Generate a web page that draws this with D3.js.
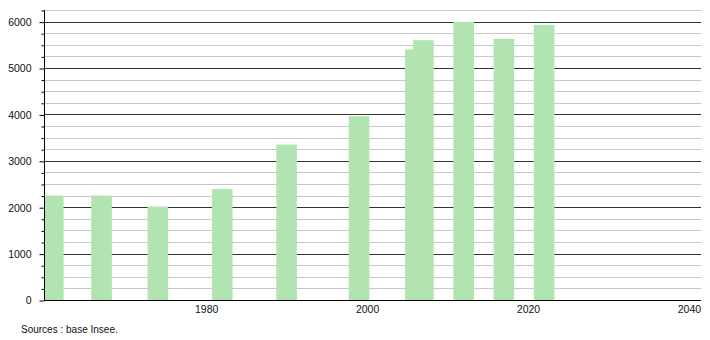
<!DOCTYPE html>
<html>
<head>
<meta charset="utf-8">
<script src="https://cdn.jsdelivr.net/npm/d3@7"></script>
<style>
	body { margin: 0; background: #fff; }
	svg text { font-family: "Liberation Sans", Arial, sans-serif; fill: #111; }
</style>
</head>
<body>
<svg id="chart" width="710" height="340"></svg>
<script>
// census years and population
var years = [1961, 1967, 1974, 1982, 1990, 1999, 2006, 2007, 2012, 2017, 2022];
var population = [2250, 2250, 2015, 2390, 3350, 3960, 5400, 5600, 5995, 5630, 5930];
var xTicks = [1980, 2000, 2020, 2040];
var yTicks = [0, 1000, 2000, 3000, 4000, 5000, 6000];
var sourceText = "Sources : base Insee.";

var svg = d3.select("svg#chart");
var plot = { left : 44, right : 701, top : 10, bottom : 300 };

var x = d3.scaleLinear().domain([1959.85, 2041.5]).range([plot.left, plot.right]);
var y = d3.scaleLinear().domain([0, 6250]).range([plot.bottom, plot.top]);
var halfBar = 1.28; // years

// minor grid every 250
var grid = svg.append("g").classed("grid", true);
var minor = d3.range(250, 6251, 250).filter(function (v) { return v % 1000 !== 0; });

grid.selectAll("line.minor")
.data(minor)
.enter().append("line")
.attr("x1", plot.left).attr("x2", plot.right)
.attr("y1", function (d) { return Math.round(y(d)) + 0.5; })
.attr("y2", function (d) { return Math.round(y(d)) + 0.5; })
.attr("stroke", "#c8c8c8");

grid.selectAll("line.major")
.data(yTicks.slice(1))
.enter().append("line")
.attr("x1", plot.left).attr("x2", plot.right)
.attr("y1", function (d) { return Math.round(y(d)) + 0.5; })
.attr("y2", function (d) { return Math.round(y(d)) + 0.5; })
.attr("stroke", "#333");

// bars, clipped at the y axis
svg.append("clipPath").attr("id", "plotClip")
.append("rect")
.attr("x", plot.left).attr("y", plot.top)
.attr("width", plot.right - plot.left).attr("height", plot.bottom - plot.top);

svg.append("g")
.attr("clip-path", "url(#plotClip)")
.selectAll("rect")
.data(years)
.enter().append("rect")
.attr("x", function (d) { return x(d - halfBar); })
.attr("width", function (d) { return x(d + halfBar) - x(d - halfBar); })
.attr("y", function (d, i) { return y(population[i]); })
.attr("height", function (d, i) { return plot.bottom - y(population[i]); })
.attr("fill", "#b1e4b1");

// y axis with minor ticks
var yAxis = svg.append("g").attr("transform", "translate(" + (plot.left + 0.5) + ",0.5)");
yAxis.call(d3.axisLeft(y).tickValues(minor).tickSize(3).tickFormat(""));
yAxis.append("g").call(d3.axisLeft(y).tickValues(yTicks).tickSize(5).tickPadding(8).tickFormat(d3.format("d")));
yAxis.selectAll(".domain").remove();
yAxis.selectAll("line").attr("stroke", "#000");
yAxis.selectAll("text").style("font-size", "10.5px").attr("fill", "#111");

svg.append("line")
.attr("x1", plot.left + 0.5).attr("x2", plot.left + 0.5)
.attr("y1", plot.top).attr("y2", plot.bottom)
.attr("stroke", "#000");

// x axis
var xAxis = svg.append("g").attr("transform", "translate(0," + (plot.bottom + 0.5) + ")");
xAxis.call(d3.axisBottom(x).tickValues(xTicks).tickSize(0).tickPadding(5).tickFormat(d3.format("d")));
xAxis.select(".domain").attr("stroke", "#000").attr("d", "M" + plot.left + ",0H" + plot.right);
xAxis.selectAll("text").style("font-size", "10.5px").attr("fill", "#111");

svg.append("text")
.attr("x", 21)
.attr("y", 333)
.style("font-size", "10px")
.text(sourceText);
</script>
</body>
</html>
